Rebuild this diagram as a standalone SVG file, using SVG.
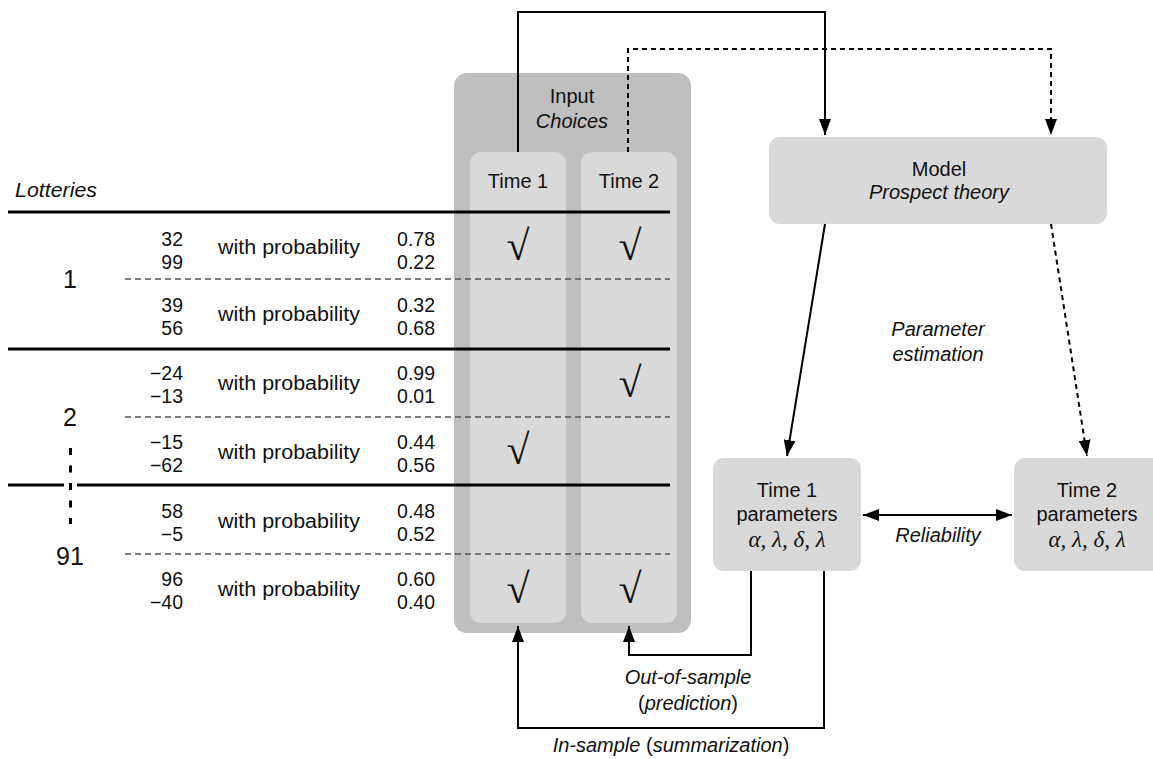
<svg xmlns="http://www.w3.org/2000/svg" width="1153" height="759" viewBox="0 0 1153 759">
<style>
text{font-family:"Liberation Sans",Arial,sans-serif;fill:#111}
.lbl{font-size:20px;text-anchor:middle}
.it{font-style:italic}
.tab{font-size:19.5px}
.num{text-anchor:end}
.wp{font-size:19.5px;text-anchor:middle}
.big{font-size:25px;text-anchor:middle}
.chk{font-family:"Liberation Serif","DejaVu Serif",serif;font-size:42px;text-anchor:middle}
.greek{font-family:"Liberation Serif","DejaVu Serif",serif;font-style:italic;font-size:23px;text-anchor:middle}
.thick{stroke:#000;stroke-width:3;fill:none}
.dash{stroke:#555;stroke-width:1.5;stroke-dasharray:6 4;fill:none}
.con{stroke:#000;stroke-width:2;fill:none}
.dot{stroke:#000;stroke-width:2;fill:none;stroke-dasharray:5 4}
</style>
<defs>
<marker id="ah" viewBox="0 0 16 12" refX="16" refY="6" markerWidth="16" markerHeight="12" markerUnits="userSpaceOnUse" orient="auto-start-reverse">
<path d="M0,0 L16,6 L0,12 Z" fill="#000"/>
</marker>
</defs>
<rect width="1153" height="759" fill="#fff"/>

<g id="input-choices">
<rect x="454" y="73" width="237" height="560" rx="13" fill="#bfbfbf"/>
<text class="lbl" x="572" y="103">Input</text>
<text class="lbl it" x="572" y="128">Choices</text>
</g>
<g id="time1-choices">
<rect x="470" y="152" width="96" height="471" rx="11" fill="#d9d9d9"/>
<text class="lbl" x="518" y="188">Time 1</text>
</g>
<g id="time2-choices">
<rect x="581" y="152" width="96" height="471" rx="11" fill="#d9d9d9"/>
<text class="lbl" x="629" y="188">Time 2</text>
</g>

<g id="lotteries-table">
<line class="thick" x1="8" y1="212" x2="670" y2="212"/>
<line class="thick" x1="8" y1="349" x2="670" y2="349"/>
<line class="thick" x1="8" y1="485" x2="64" y2="485"/>
<line class="thick" x1="77" y1="485" x2="670" y2="485"/>
<line class="dash" x1="125" y1="279" x2="670" y2="279"/>
<line class="dash" x1="125" y1="417" x2="670" y2="417"/>
<line class="dash" x1="125" y1="554" x2="670" y2="554"/>
<line x1="70.5" y1="448" x2="70.5" y2="524" stroke="#000" stroke-width="3" stroke-dasharray="7 10.5"/>
<text class="it" x="15" y="197" style="font-size:20px" textLength="82" lengthAdjust="spacingAndGlyphs">Lotteries</text>
<text class="big" x="70" y="288">1</text>
<text class="big" x="70" y="426">2</text>
<text class="big" x="70" y="565">91</text>
<g class="wp">
<text x="289" y="254" textLength="142" lengthAdjust="spacingAndGlyphs">with probability</text>
<text x="289" y="321" textLength="142" lengthAdjust="spacingAndGlyphs">with probability</text>
<text x="289" y="390" textLength="142" lengthAdjust="spacingAndGlyphs">with probability</text>
<text x="289" y="459" textLength="142" lengthAdjust="spacingAndGlyphs">with probability</text>
<text x="289" y="528" textLength="142" lengthAdjust="spacingAndGlyphs">with probability</text>
<text x="289" y="596" textLength="142" lengthAdjust="spacingAndGlyphs">with probability</text>
</g>
<g class="tab">
<text class="num" x="183" y="246">32</text><text class="num" x="183" y="269">99</text>
<text class="num" x="435" y="246">0.78</text><text class="num" x="435" y="269">0.22</text>

<text class="num" x="183" y="312">39</text><text class="num" x="183" y="335">56</text>
<text class="num" x="435" y="312">0.32</text><text class="num" x="435" y="335">0.68</text>

<text class="num" x="183" y="380">−24</text><text class="num" x="183" y="403">−13</text>
<text class="num" x="435" y="380">0.99</text><text class="num" x="435" y="403">0.01</text>

<text class="num" x="183" y="449">−15</text><text class="num" x="183" y="472">−62</text>
<text class="num" x="435" y="449">0.44</text><text class="num" x="435" y="472">0.56</text>

<text class="num" x="183" y="518">58</text><text class="num" x="183" y="541">−5</text>
<text class="num" x="435" y="518">0.48</text><text class="num" x="435" y="541">0.52</text>

<text class="num" x="183" y="586">96</text><text class="num" x="183" y="609">−40</text>
<text class="num" x="435" y="586">0.60</text><text class="num" x="435" y="609">0.40</text>
</g>
</g>

<g id="checks">
<text class="chk" x="518" y="260">√</text>
<text class="chk" x="630" y="260">√</text>
<text class="chk" x="630" y="397">√</text>
<text class="chk" x="518" y="464">√</text>
<text class="chk" x="518" y="603">√</text>
<text class="chk" x="630" y="603">√</text>
</g>

<g id="model">
<rect x="769" y="137" width="338" height="87" rx="11" fill="#d9d9d9"/>
<text class="lbl" x="939" y="176">Model</text>
<text class="lbl it" x="939" y="199">Prospect theory</text>
</g>

<g id="time1-params">
<rect x="713" y="458" width="148" height="113" rx="11" fill="#d9d9d9"/>
<text class="lbl" x="787" y="497">Time 1</text>
<text class="lbl" x="787" y="521">parameters</text>
<text class="greek" x="787" y="547">α, λ, δ, λ</text>
</g>
<g id="time2-params">
<rect x="1014" y="458" width="150" height="113" rx="11" fill="#d9d9d9"/>
<text class="lbl" x="1087" y="497">Time 2</text>
<text class="lbl" x="1087" y="521">parameters</text>
<text class="greek" x="1087" y="547">α, λ, δ, λ</text>
</g>

<g id="connectors">
<polyline class="con" points="518,152 518,12 825,12 825,135" marker-end="url(#ah)"/>
<polyline class="dot" points="628,152 628,49 1051,49 1051,135" marker-end="url(#ah)"/>
<line class="con" x1="825" y1="224" x2="787" y2="456" marker-end="url(#ah)"/>
<line class="dot" x1="1051" y1="224" x2="1087" y2="456" marker-end="url(#ah)"/>
<line class="con" x1="863" y1="515" x2="1012" y2="515" marker-start="url(#ah)" marker-end="url(#ah)"/>
<polyline class="con" points="751,571 751,655 629,655 629,626" marker-end="url(#ah)"/>
<polyline class="con" points="824,571 824,728 518,728 518,626" marker-end="url(#ah)"/>
<text class="lbl it" x="938" y="336">Parameter</text>
<text class="lbl it" x="938" y="361">estimation</text>
<text class="lbl it" x="938" y="542">Reliability</text>
<text class="lbl it" x="688" y="684">Out-of-sample</text>
<text class="lbl" x="688" y="710">(<tspan class="it">prediction</tspan>)</text>
<text class="lbl" x="671" y="752"><tspan class="it">In-sample</tspan> (<tspan class="it">summarization</tspan>)</text>
</g>
</svg>
